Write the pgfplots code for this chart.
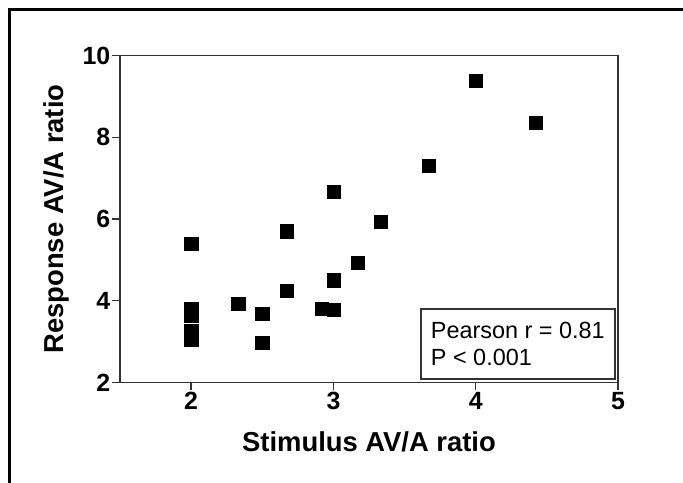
\documentclass[border=0pt]{standalone}
\usepackage{pgfplots}
\pgfplotsset{compat=1.18}
\usepackage{fontspec}
\setmainfont{Liberation Sans}
\begin{document}
\begin{tikzpicture}[x=1bp,y=1bp]
\useasboundingbox (0,0) rectangle (683,-483);
\draw[line width=3bp] (8,-10) -- (683,-10);
\draw[line width=3bp] (9.5,-8.5) -- (9.5,-483);
\begin{axis}[
  at={(120bp,-382.3bp)}, anchor=south west,
  scale only axis, width=498bp, height=326.6bp,
  xmin=1.5, xmax=5, ymin=2, ymax=10,
  xtick={2,3,4,5}, ytick={2,4,6,8,10},
  axis line style={black!80, line width=1.5bp},
  every tick/.style={black!80, line width=1.5bp},
  tick align=outside, major tick length=8bp,
  xtick pos=bottom, ytick pos=left,
  /pgf/number format/assume math mode=true,
  tick label style={font=\fontsize{25}{29}\selectfont\bfseries},
  yticklabel style={inner sep=1.5bp},
  xticklabel style={inner sep=2bp},
  label style={font=\fontsize{27.5}{32}\selectfont\bfseries},
  xlabel={Stimulus AV/A ratio},
  ylabel={Response AV/A ratio},
  xlabel style={at={(axis description cs:0.5,0)}, anchor=base, yshift=-69.4bp},
  ylabel style={at={(axis description cs:0,0.5)}, anchor=base, yshift=56.7bp},
  clip=false,
]
\addplot[only marks, mark=square*, mark size=6.6bp, black] coordinates {
(2,5.4) (2,3.81) (2,3.64) (2,3.27) (2,3.04)
(2.33,3.93) (2.5,3.68) (2.5,2.97)
(2.67,5.7) (2.67,4.24) (2.92,3.8) (3,3.78) (3,4.5) (3,6.67)
(3.17,4.93) (3.33,5.93) (3.67,7.3) (4,9.38) (4.42,8.36)
};
\draw[black!80, line width=1.5bp, fill=white] (rel axis cs:0.604,0.010) rectangle (rel axis cs:0.994,0.224);
\node[anchor=base west, inner sep=0pt, font=\fontsize{23.5}{28}\selectfont] at (rel axis cs:0.624,0.1326) {Pearson r = 0.81};
\node[anchor=base west, inner sep=0pt, font=\fontsize{23.5}{28}\selectfont] at (rel axis cs:0.624,0.050) {P < 0.001};
\end{axis}
\end{tikzpicture}
\end{document}
